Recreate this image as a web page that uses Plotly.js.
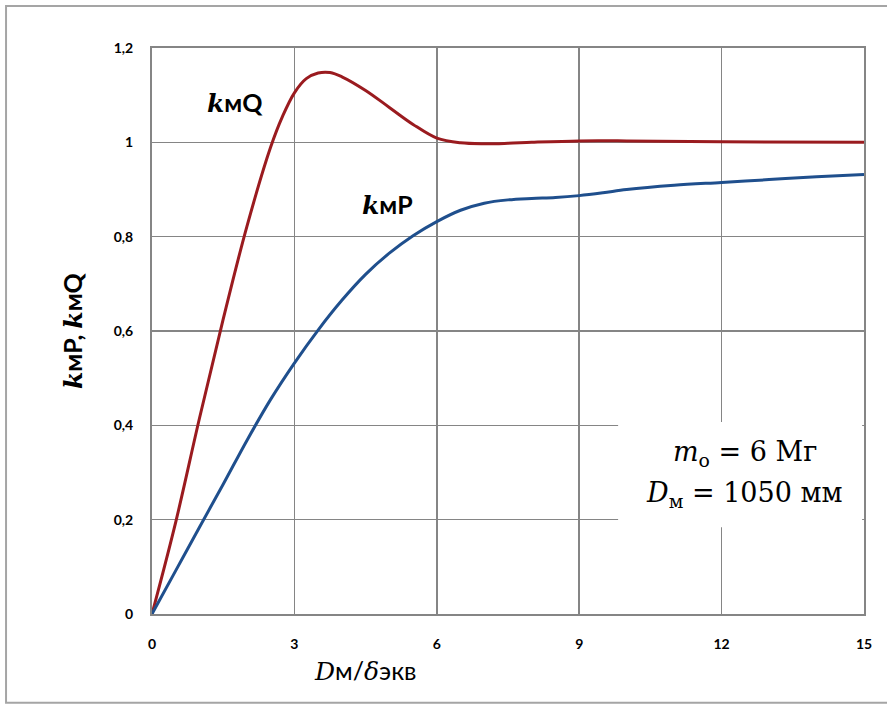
<!DOCTYPE html>
<html>
<head>
<meta charset="utf-8">
<script src="https://cdn.plot.ly/plotly-3.0.1.min.js"></script>
<style>
html,body{margin:0;padding:0;background:#fff;}
#chart{width:887px;height:706px;}
</style>
</head>
<body>
<div id="chart"></div>
<script>
// kмQ curve
const xQ = [0,0.5,1.0,1.5,2.0,2.5,2.75,3.0,3.25,3.5,3.75,4.0,4.5,5.0,5.5,6.0,6.5,7.0,7.5,8,9,10,12,15];
const kQ = [0,0.195,0.415,0.625,0.822,0.99,1.055,1.105,1.135,1.147,1.148,1.139,1.11,1.074,1.038,1.009,0.999,0.997,0.998,1.0,1.003,1.003,1.001,1.0];
// kмP curve
const xP = [0,0.5,1.0,1.5,2.0,2.5,3.0,3.5,4.0,4.5,5.0,5.5,6.0,6.5,7.0,7.5,8.0,8.5,9.0,9.5,10,11,12,13,14,15];
const kP = [0,0.092,0.184,0.275,0.368,0.455,0.532,0.602,0.665,0.72,0.765,0.802,0.832,0.856,0.871,0.878,0.881,0.883,0.887,0.893,0.9,0.909,0.915,0.921,0.927,0.932];
// ticks
const xTickVals = [0,3,6,9,12,15];
const xTickText = ['0','3','6','9','12','15'];
const yTickVals = [0,0.2,0.4,0.6,0.8,1,1.2];
const yTickText = ['0','0,2','0,4','0,6','0,8','1','1,2'];

const SANS = 'Lato, "Open Sans", sans-serif';
const SERIF = '"DejaVu Serif", "Liberation Serif", serif';
const kSerif = '<span style="font-family:\'DejaVu Serif\'"><i>k</i></span>';

const traces = [
  {x: xQ, y: kQ, mode: 'lines', line: {color: '#9a1b1f', width: 3, shape: 'spline', smoothing: 1}, hoverinfo: 'skip'},
  {x: xP, y: kP, mode: 'lines', line: {color: '#1f4f8d', width: 3, shape: 'spline', smoothing: 1}, hoverinfo: 'skip'}
];

const axisCommon = {
  showgrid: true, gridcolor: '#858585', gridwidth: 1.5,
  showline: true, linecolor: '#858585', linewidth: 2, mirror: true,
  zeroline: false, ticks: '', fixedrange: true,
  tickfont: {family: SANS, size: 14, color: '#000', weight: 'bold'}
};

const layout = {
  width: 887, height: 706,
  margin: {l: 152, r: 23, t: 48, b: 92},
  paper_bgcolor: '#fff', plot_bgcolor: '#fff',
  showlegend: false,
  xaxis: Object.assign({}, axisCommon, {range: [0, 15], tickvals: xTickVals, ticktext: xTickText, ticklabelstandoff: 16}),
  yaxis: Object.assign({}, axisCommon, {range: [0, 1.2], tickvals: yTickVals, ticktext: yTickText, ticklabelstandoff: 14}),
  shapes: [
    {type: 'rect', xref: 'paper', yref: 'paper', x0: -0.205, x1: 1.07, y0: -0.157, y1: 1.074,
     line: {color: '#a5a5a5', width: 2}, fillcolor: 'rgba(0,0,0,0)', layer: 'below'},
    {type: 'rect', xref: 'x', yref: 'y', x0: 9.82, x1: 14.96, y0: 0.184, y1: 0.407,
     line: {width: 0}, fillcolor: '#fff', layer: 'between'}
  ],
  annotations: [
    {xref: 'paper', yref: 'paper', x: (72-152)/712, y: 0.5, xanchor: 'center', yanchor: 'middle', textangle: -90, showarrow: false,
     text: kSerif + 'мP, ' + kSerif + 'мQ', font: {family: SANS, size: 25, color: '#000', weight: 'bold'}},
    {xref: 'paper', yref: 'paper', x: (365-152)/712, y: (614-670)/566, xanchor: 'center', yanchor: 'middle', showarrow: false,
     text: '<span style="font-family:\'DejaVu Serif\'"><i>D</i></span>м/<span style="font-family:\'DejaVu Serif\'"><i>δ</i></span>экв',
     font: {family: SANS, size: 25, color: '#000'}},
    {xref: 'paper', yref: 'paper', x: (235-152)/712, y: (614-102)/566, xanchor: 'center', yanchor: 'middle', showarrow: false,
     text: kSerif + 'мQ', font: {family: SANS, size: 25, color: '#000', weight: 'bold'}},
    {xref: 'paper', yref: 'paper', x: (387-152)/712, y: (614-205)/566, xanchor: 'center', yanchor: 'middle', showarrow: false,
     text: kSerif + 'мP', font: {family: SANS, size: 25, color: '#000', weight: 'bold'}},
    {xref: 'paper', yref: 'paper', x: (745-152)/712, y: (614-453)/566, xanchor: 'center', yanchor: 'middle', showarrow: false,
     text: '<i>m</i><sub>о</sub> = 6 Мг', font: {family: SERIF, size: 27, color: '#000'}},
    {xref: 'paper', yref: 'paper', x: (744-152)/712, y: (614-494)/566, xanchor: 'center', yanchor: 'middle', showarrow: false,
     text: '<i>D</i><sub>м</sub> = 1050 мм', font: {family: SERIF, size: 27, color: '#000'}}
  ]
};

Plotly.newPlot('chart', traces, layout, {staticPlot: true, displayModeBar: false});
</script>
</body>
</html>
